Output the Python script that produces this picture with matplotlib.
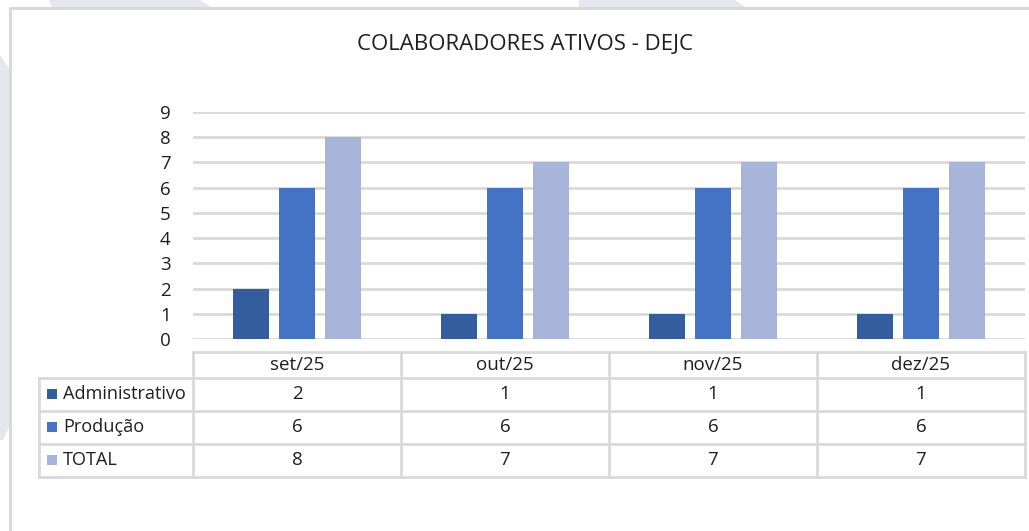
import matplotlib
matplotlib.use("Agg")
import matplotlib.pyplot as plt
from matplotlib.patches import Polygon, Rectangle
from matplotlib.transforms import blended_transform_factory, IdentityTransform

# ---- data ----
title = "COLABORADORES ATIVOS - DEJC"
categories = ["set/25", "out/25", "nov/25", "dez/25"]
series_names = ["Administrativo", "Produção", "TOTAL"]
administrativo = [2, 1, 1, 1]
producao = [6, 6, 6, 6]
total = [8, 7, 7, 7]
y_ticks = [0, 1, 2, 3, 4, 5, 6, 7, 8, 9]

series_values = [administrativo, producao, total]
colors = ["#345DA0", "#4472C4", "#A7B5DA"]
grid_c = "#D9D9D9"
text_c = "#1F1F1F"

W, H = 1029, 531
plt.rcParams['font.family'] = ['Open Sans', 'DejaVu Sans']
fig = plt.figure(figsize=(W / 100, H / 100), dpi=100)
fig.patch.set_facecolor("white")

ident = IdentityTransform()

def py(y):
    return H - y

# watermark shapes outside the frame
wm = "#E6E6EF"
fig.patches.append(Polygon([(49, py(0)), (200, py(0)), (213, py(8)), (52, py(8))],
                           closed=True, transform=ident, facecolor=wm, edgecolor="none", zorder=0))
fig.patches.append(Polygon([(579, py(0)), (735, py(0)), (747, py(8)), (579, py(8))],
                           closed=True, transform=ident, facecolor=wm, edgecolor="none", zorder=0))
fig.patches.append(Polygon([(0, py(55)), (10, py(70)), (10, py(425)), (3, py(440)), (0, py(440))],
                           closed=True, transform=ident, facecolor=wm, edgecolor="none", zorder=0))

# chart frame
fig.lines.append(plt.Line2D([10, 10, W + 5], [py(H + 5), py(7.5), py(7.5)],
                            transform=ident, color=grid_c, lw=2.2, zorder=1))

# bar axes
x0, x1 = 193, 1025
ytop, ybot = 112, 339
ax = fig.add_axes([x0 / W, 1 - ybot / H, (x1 - x0) / W, (ybot - ytop) / H])
ax.set_facecolor("none")
n = len(categories)
ax.set_xlim(-0.5, n - 0.5)
ax.set_ylim(0, 9)
step = 46 / 208
bw = 36.5 / 208
for k, vals in enumerate(series_values):
    xs = [i + (k - 1) * step for i in range(n)]
    ax.bar(xs, vals, width=bw, color=colors[k], zorder=3, linewidth=0)
ax.set_yticks(y_ticks)
ax.set_yticklabels([str(t) for t in y_ticks], fontsize=13.5, color=text_c)
ax.tick_params(axis="y", length=0, pad=16)
ax.set_xticks([])
ax.yaxis.grid(True, color=grid_c, lw=2, zorder=0)
for s in ax.spines.values():
    s.set_visible(False)

fig.text(525 / W, 1 - 44 / H, title, ha="center", va="center", fontsize=16, color=text_c)

# data table
bt = blended_transform_factory(ax.transData, ident)
row_edges = [352, 377.5, 410.5, 443.5, 476.5]
lab_left = 39
lw = 2
fig.lines.append(plt.Line2D([x0, x1], [py(row_edges[0])] * 2, transform=ident, color=grid_c, lw=lw))
for ye in row_edges[1:]:
    fig.lines.append(plt.Line2D([lab_left, x1], [py(ye)] * 2, transform=ident, color=grid_c, lw=lw))
fig.lines.append(plt.Line2D([lab_left, lab_left], [py(row_edges[1]), py(row_edges[-1])],
                            transform=ident, color=grid_c, lw=lw))
for i in range(n + 1):
    fig.lines.append(plt.Line2D([i - 0.5, i - 0.5], [py(row_edges[0]), py(row_edges[-1])],
                                transform=bt, color=grid_c, lw=lw))

hy = (row_edges[0] + row_edges[1]) / 2
for i, c in enumerate(categories):
    fig.text(i, py(hy), c, transform=bt, ha="center", va="center", fontsize=13.5, color=text_c)

for k, (name, vals) in enumerate(zip(series_names, series_values)):
    cy = (row_edges[k + 1] + row_edges[k + 2]) / 2
    fig.patches.append(Rectangle((47, py(cy) - 5), 10, 10, transform=ident,
                                 facecolor=colors[k], edgecolor="none"))
    fig.text(63, py(cy), name, transform=ident, ha="left", va="center", fontsize=13.1, color=text_c)
    for i, v in enumerate(vals):
        fig.text(i, py(cy), str(v), transform=bt, ha="center", va="center", fontsize=13.5, color=text_c)

fig.savefig("out.png", dpi=100)
